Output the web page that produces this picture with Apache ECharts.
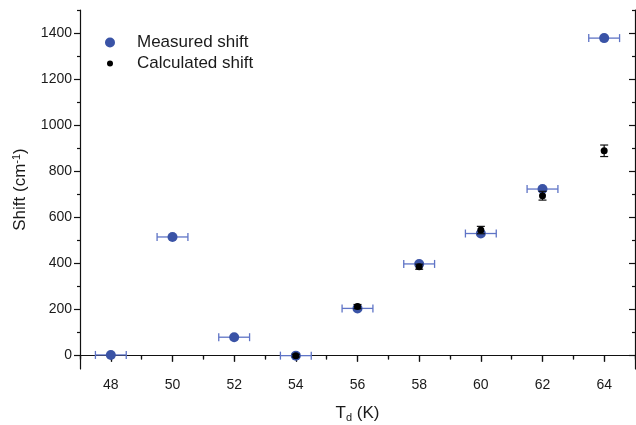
<!DOCTYPE html>
<html><head><meta charset="utf-8">
<script src="https://cdn.jsdelivr.net/npm/echarts@6/dist/echarts.min.js"></script>
<style>html,body{margin:0;padding:0;background:#fff}#c{width:636px;height:425px}</style>
</head><body><div id="c"></div>
<script>
// Data
const measuredT = [48, 50, 52, 54, 56, 58, 60, 62, 64];
const measuredShift = [3, 515, 80, 0, 205, 398, 530, 723, 1378];
const measuredTErr = [0.5, 0.5, 0.5, 0.5, 0.5, 0.5, 0.5, 0.5, 0.5];
const calcT = [54, 56, 58, 60, 62, 64];
const calcShift = [0, 213, 386, 545, 694, 889];
const calcErr = [6, 9, 11, 16, 19, 25];
const xMajorTicks = [48, 50, 52, 54, 56, 58, 60, 62, 64];
const xMinorTicks = [47, 49, 51, 53, 55, 57, 59, 61, 63, 65];
const yMajorTicks = [0, 200, 400, 600, 800, 1000, 1200, 1400];
const yMinorTicks = [100, 300, 500, 700, 900, 1100, 1300, 1500];

const FONT = 'Liberation Sans, Arial, sans-serif';
const TXT = '#1a1a1a';
const BLUE = '#3a53a6';
const BLUE_ERR = '#5f74c6';
const X_MIN = 47, X_MAX = 65, Y_MIN = -58, Y_MAX = 1500;

const chart = echarts.init(document.getElementById('c'));

function hErr(params, api) {
  const x = api.value(0), y = api.value(1), e = api.value(2);
  const a = api.coord([x - e, y]), b = api.coord([x + e, y]);
  const cap = 4;
  const st = {stroke: BLUE_ERR, lineWidth: 1.3};
  return {type: 'group', children: [
    {type: 'line', shape: {x1: a[0], y1: a[1], x2: b[0], y2: b[1]}, style: st},
    {type: 'line', shape: {x1: a[0], y1: a[1] - cap, x2: a[0], y2: a[1] + cap}, style: st},
    {type: 'line', shape: {x1: b[0], y1: b[1] - cap, x2: b[0], y2: b[1] + cap}, style: st}
  ]};
}
function vErr(params, api) {
  const x = api.value(0), y = api.value(1), e = api.value(2);
  const a = api.coord([x, y - e]), b = api.coord([x, y + e]);
  const cap = 4;
  const st = {stroke: '#111', lineWidth: 1.2};
  return {type: 'group', children: [
    {type: 'line', shape: {x1: a[0], y1: a[1], x2: b[0], y2: b[1]}, style: st},
    {type: 'line', shape: {x1: a[0] - cap, y1: a[1], x2: a[0] + cap, y2: a[1]}, style: st},
    {type: 'line', shape: {x1: b[0] - cap, y1: b[1], x2: b[0] + cap, y2: b[1]}, style: st}
  ]};
}

const axisLine = {show: true, lineStyle: {color: '#111', width: 1.2}};
const baseX = {type: 'value', min: X_MIN, max: X_MAX, splitLine: {show: false}};
const baseY = {type: 'value', min: Y_MIN, max: Y_MAX, splitLine: {show: false}};
const plain = v => String(v);

const option = {
  animation: false,
  backgroundColor: '#fff',
  grid: {left: 80, right: 1, top: 10, bottom: 56, containLabel: false, outerBoundsMode: 'none'},
  legend: [
    {left: 100, top: 29, itemWidth: 10, itemHeight: 10, icon: 'circle', data: ['Measured shift'],
     textStyle: {fontFamily: FONT, fontSize: 17, color: TXT, padding: [0, 0, 0, 17]}},
    {left: 102, top: 50, itemWidth: 6, itemHeight: 6, icon: 'circle', data: ['Calculated shift'],
     textStyle: {fontFamily: FONT, fontSize: 17, color: TXT, padding: [0, 0, 0, 19]}}
  ],
  xAxis: [
    Object.assign({}, baseX, {position: 'bottom',
      name: '{a|T}{s|d}{a| (K)}', nameLocation: 'middle', nameGap: 35,
      nameTextStyle: {rich: {a: {fontFamily: FONT, fontSize: 17, color: TXT}, s: {fontFamily: FONT, fontSize: 11, color: TXT, padding: [8, 0, 0, 0]}}},
      axisLine: axisLine,
      axisTick: {show: true, inside: false, length: 6, customValues: xMajorTicks, lineStyle: {color: '#111', width: 1.2}},
      axisLabel: {show: true, customValues: xMajorTicks, formatter: plain, margin: 9, fontFamily: FONT, fontSize: 14, color: TXT}}),
    Object.assign({}, baseX, {position: 'bottom',
      axisLine: {show: false},
      axisTick: {show: true, inside: false, length: 3, customValues: xMinorTicks, lineStyle: {color: '#111', width: 1.2}},
      axisLabel: {show: false}}),
    Object.assign({}, baseX, {position: 'top',
      axisLine: axisLine,
      axisTick: {show: true, inside: true, length: 6, customValues: xMajorTicks, lineStyle: {color: '#111', width: 1.2}},
      axisLabel: {show: false}}),
    Object.assign({}, baseX, {position: 'top',
      axisLine: {show: false},
      axisTick: {show: true, inside: true, length: 4, customValues: xMinorTicks, lineStyle: {color: '#111', width: 1.2}},
      axisLabel: {show: false}})
  ],
  yAxis: [
    Object.assign({}, baseY, {position: 'left',
      name: '{a|Shift (cm}{s|-1}{a|)}', nameLocation: 'middle', nameGap: 50, nameRotate: 90,
      nameTextStyle: {rich: {a: {fontFamily: FONT, fontSize: 17, color: TXT}, s: {fontFamily: FONT, fontSize: 11, color: TXT, padding: [0, 0, 8, 0]}}},
      axisLine: axisLine,
      axisTick: {show: true, inside: false, length: 6, customValues: yMajorTicks, lineStyle: {color: '#111', width: 1.2}},
      axisLabel: {show: true, customValues: yMajorTicks, formatter: plain, margin: 8, fontFamily: FONT, fontSize: 14, color: TXT}}),
    Object.assign({}, baseY, {position: 'left',
      axisLine: {show: false},
      axisTick: {show: true, inside: false, length: 3, customValues: yMinorTicks, lineStyle: {color: '#111', width: 1.2}},
      axisLabel: {show: false}}),
    Object.assign({}, baseY, {position: 'right',
      axisLine: axisLine,
      axisTick: {show: true, inside: true, length: 6, customValues: yMajorTicks, lineStyle: {color: '#111', width: 1.2}},
      axisLabel: {show: false}}),
    Object.assign({}, baseY, {position: 'right',
      axisLine: {show: false},
      axisTick: {show: true, inside: true, length: 3, customValues: yMinorTicks, lineStyle: {color: '#111', width: 1.2}},
      axisLabel: {show: false}})
  ],
  series: [
    {type: 'custom', name: 'mErr', renderItem: hErr, z: 2,
     data: measuredT.map((t, i) => [t, measuredShift[i], measuredTErr[i]])},
    {type: 'scatter', name: 'Measured shift', symbol: 'circle', symbolSize: 10, z: 3,
     itemStyle: {color: BLUE, opacity: 1},
     data: measuredT.map((t, i) => [t, measuredShift[i]])},
    {type: 'custom', name: 'cErr', renderItem: vErr, z: 4,
     data: calcT.map((t, i) => [t, calcShift[i], calcErr[i]])},
    {type: 'scatter', name: 'Calculated shift', symbol: 'circle', symbolSize: 7, z: 5,
     itemStyle: {color: '#000', opacity: 1},
     data: calcT.map((t, i) => [t, calcShift[i]])}
  ]
};
chart.setOption(option);
</script></body></html>
